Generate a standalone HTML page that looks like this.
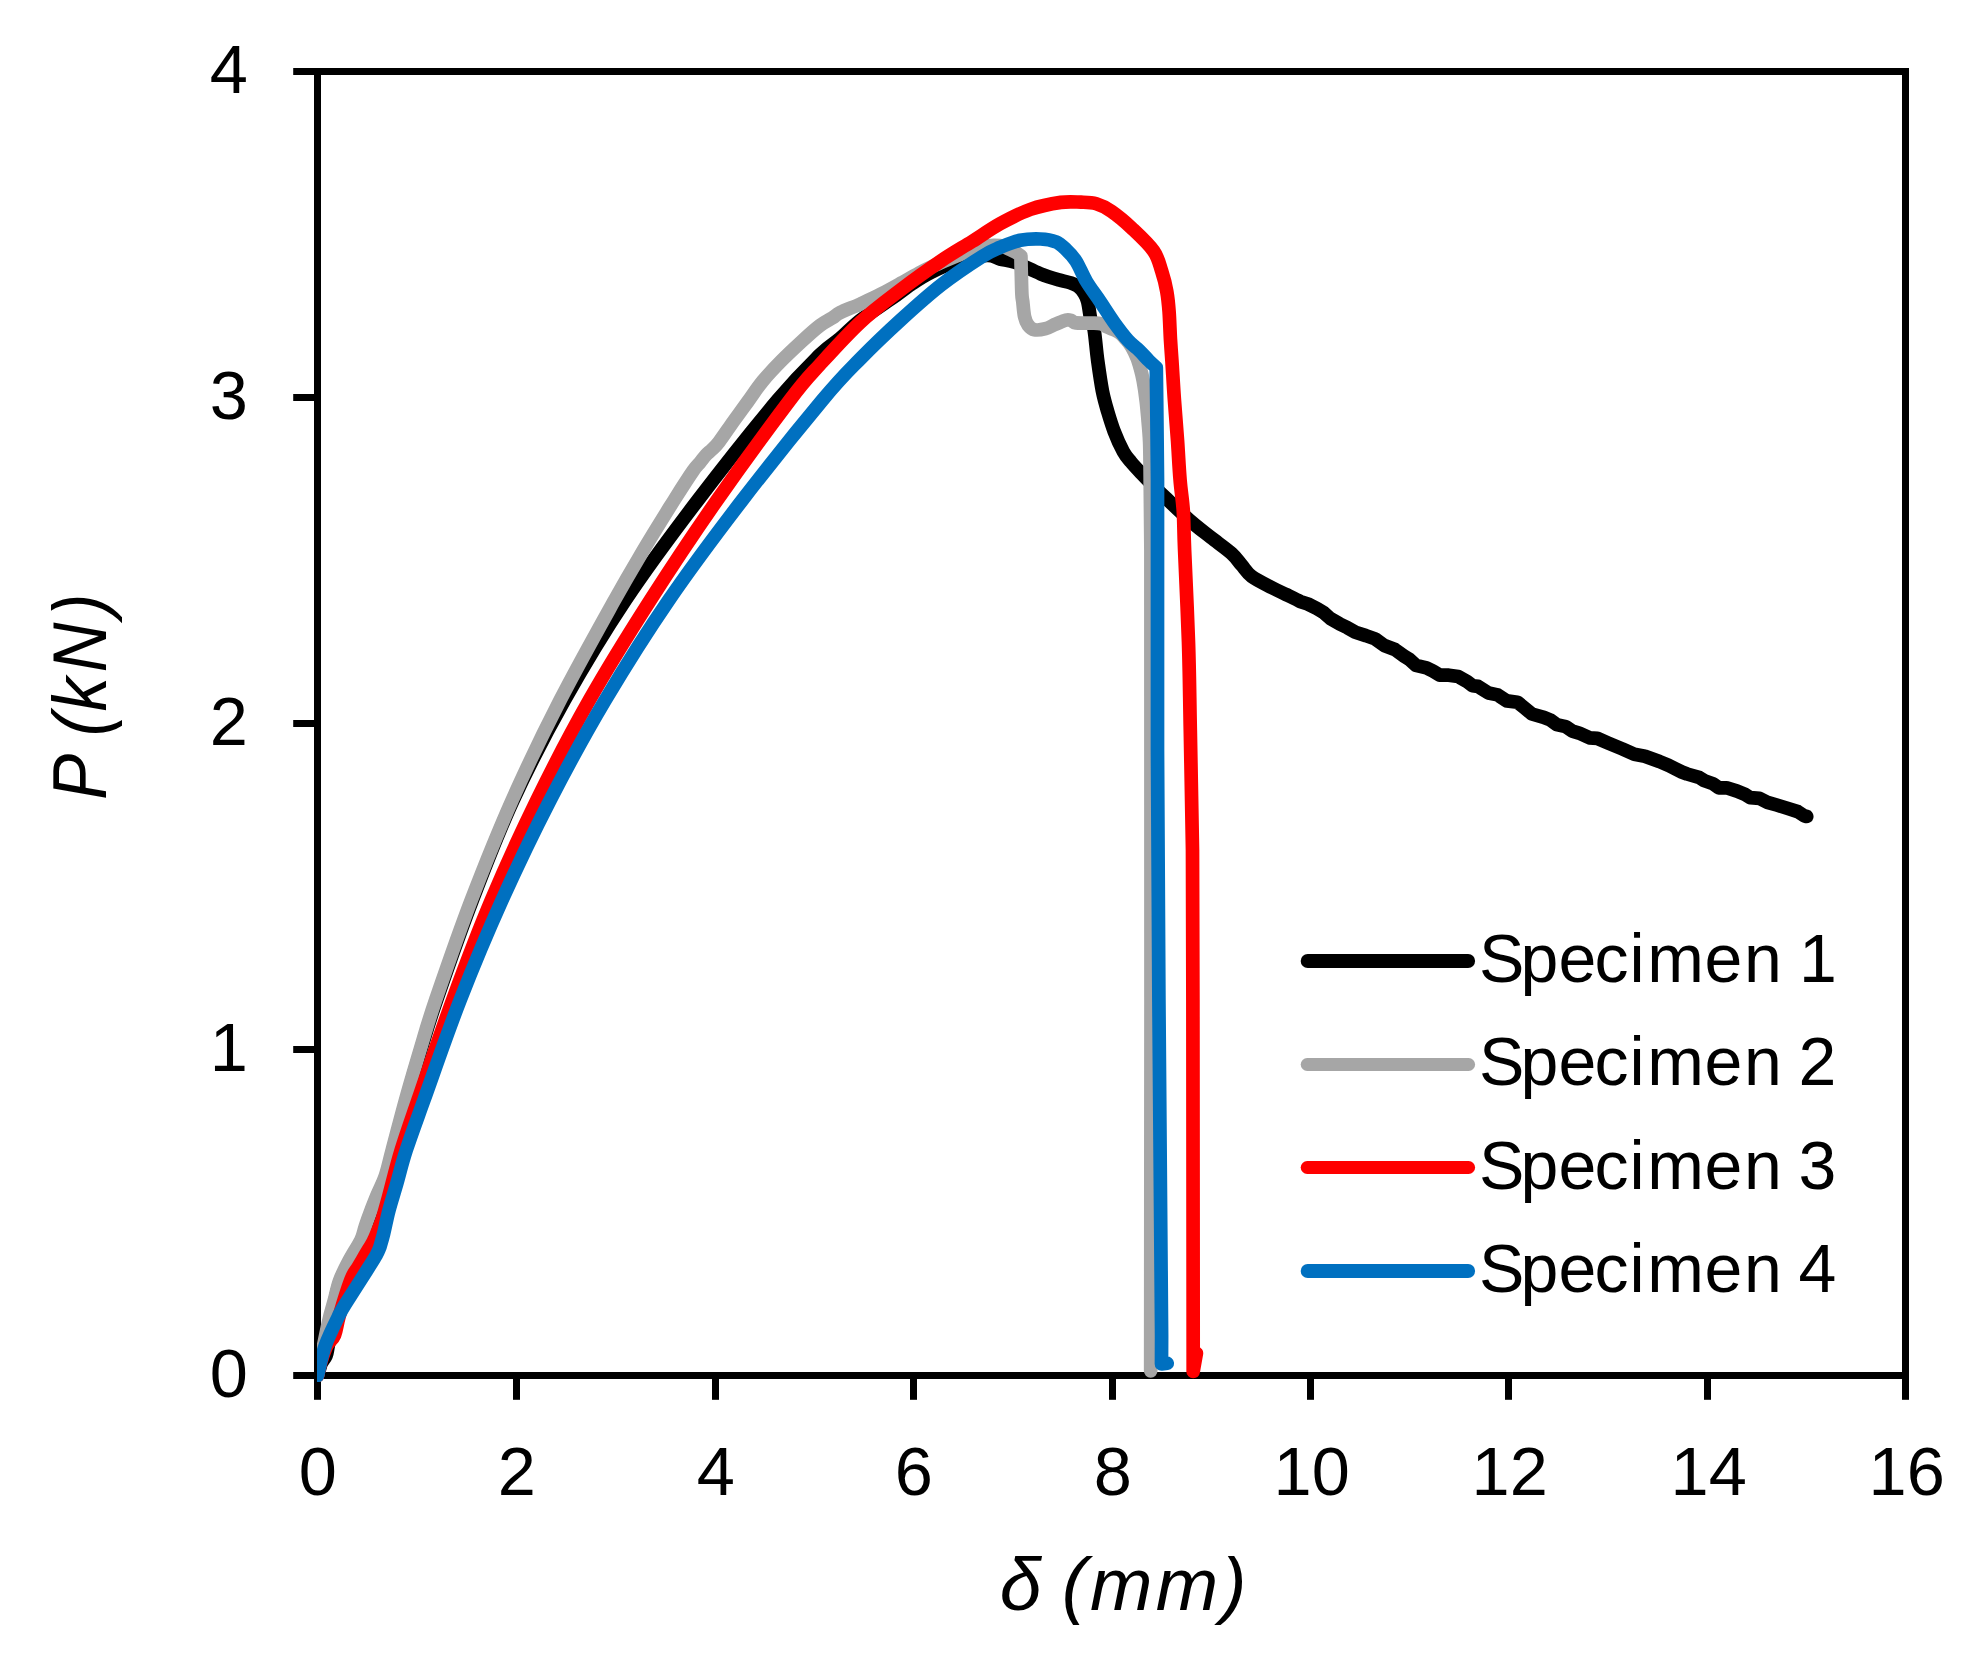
<!DOCTYPE html>
<html lang="en">
<head>
<meta charset="utf-8">
<title>P (kN) vs δ (mm)</title>
<style>
html,body{margin:0;padding:0;background:#fff;}
body{width:1973px;height:1663px;overflow:hidden;font-family:"Liberation Sans",sans-serif;}
svg{display:block;}
</style>
</head>
<body>
<svg width="1973" height="1663" viewBox="0 0 1973 1663">
<defs><clipPath id="pc"><rect x="317" y="60" width="1600" height="1322"/></clipPath></defs>
<rect width="1973" height="1663" fill="#fff"/>
<g stroke="#000" stroke-width="7.0" fill="none" stroke-linecap="butt">
<rect x="317.5" y="71.5" width="1588.0" height="1304.0"/>
<line x1="317.5" y1="1375.5" x2="317.5" y2="1399.8"/>
<line x1="516.5" y1="1375.5" x2="516.5" y2="1399.8"/>
<line x1="715.5" y1="1375.5" x2="715.5" y2="1399.8"/>
<line x1="913.5" y1="1375.5" x2="913.5" y2="1399.8"/>
<line x1="1112.5" y1="1375.5" x2="1112.5" y2="1399.8"/>
<line x1="1310.5" y1="1375.5" x2="1310.5" y2="1399.8"/>
<line x1="1508.5" y1="1375.5" x2="1508.5" y2="1399.8"/>
<line x1="1707.5" y1="1375.5" x2="1707.5" y2="1399.8"/>
<line x1="1905.5" y1="1375.5" x2="1905.5" y2="1399.8"/>
<line x1="293.2" y1="1375.5" x2="317.5" y2="1375.5"/>
<line x1="293.2" y1="1049.5" x2="317.5" y2="1049.5"/>
<line x1="293.2" y1="723.5" x2="317.5" y2="723.5"/>
<line x1="293.2" y1="397.5" x2="317.5" y2="397.5"/>
<line x1="293.2" y1="71.5" x2="317.5" y2="71.5"/>
</g>
<g clip-path="url(#pc)" fill="none" stroke-width="13.7" stroke-linecap="round" stroke-linejoin="round">
<path stroke="#000000" d="M317.5,1375.5 C317.8,1374.4 318.8,1371.1 319.5,1369.0 C320.2,1366.9 320.4,1365.2 321.5,1363.0 C322.6,1360.8 325.0,1358.4 326.1,1355.7 C327.2,1353.0 327.4,1350.0 328.0,1347.0 C328.6,1344.0 329.3,1341.2 330.0,1338.0 C330.7,1334.8 331.4,1331.8 332.0,1328.0 C332.6,1324.2 333.0,1319.6 333.5,1315.0 C334.0,1310.4 334.0,1306.1 335.1,1300.4 C336.2,1294.7 337.9,1287.3 340.3,1280.8 C342.7,1274.3 345.9,1268.1 349.5,1261.3 C353.1,1254.5 358.9,1245.7 361.6,1240.2 C364.3,1234.7 364.4,1231.7 365.5,1228.2 C366.6,1224.7 366.6,1224.5 368.5,1219.2 C370.4,1213.9 374.2,1203.9 377.2,1196.6 C380.1,1189.3 383.6,1183.4 386.2,1175.6 C388.8,1167.8 389.6,1162.6 393.0,1150.0 C396.4,1137.4 401.6,1117.0 406.3,1100.0 C411.0,1083.0 416.3,1064.8 421.4,1048.1 C426.4,1031.4 428.1,1024.7 436.6,1000.0 C445.1,975.3 459.6,933.3 472.4,900.0 C485.2,866.7 497.8,833.3 513.2,800.0 C528.6,766.7 545.9,733.3 564.6,700.0 C583.3,666.7 603.3,633.3 625.5,600.0 C647.7,566.7 672.6,533.3 698.0,500.0 C723.4,466.7 757.4,424.2 777.7,400.0 C798.0,375.8 809.6,365.0 820.0,354.7 C830.4,344.4 833.5,344.1 840.3,338.3 C847.0,332.5 852.0,326.7 860.5,320.1 C869.0,313.6 882.5,305.0 891.0,299.0 C899.5,293.0 904.5,288.8 911.2,284.3 C918.0,279.8 923.4,276.1 931.5,272.1 C939.6,268.1 950.7,263.3 960.0,260.5 C969.3,257.7 980.6,255.7 987.3,255.4 C994.0,255.2 995.4,257.8 1000.0,259.0 C1004.6,260.2 1008.5,259.9 1015.2,262.4 C1022.0,264.9 1032.9,270.8 1040.5,273.8 C1048.1,276.8 1055.7,278.9 1060.8,280.4 C1065.9,281.9 1068.1,281.9 1071.0,282.9 C1073.9,283.9 1075.9,284.7 1078.1,286.4 C1080.3,288.1 1082.4,290.5 1084.0,293.0 C1085.6,295.5 1086.5,296.8 1087.7,301.6 C1088.9,306.4 1090.1,317.1 1091.2,321.9 C1092.3,326.6 1093.1,323.7 1094.2,330.1 C1095.3,336.5 1096.3,350.4 1097.7,360.5 C1099.1,370.6 1100.8,382.6 1102.4,391.0 C1104.1,399.4 1105.6,404.4 1107.6,411.2 C1109.6,417.9 1111.6,424.7 1114.2,431.5 C1116.8,438.3 1120.6,446.7 1123.4,451.8 C1126.2,456.9 1128.2,458.6 1131.0,462.0 C1133.8,465.4 1136.7,468.5 1140.3,472.3 C1143.9,476.1 1148.3,480.8 1152.5,485.0 C1156.7,489.2 1159.2,491.7 1165.6,497.8 C1172.0,503.9 1183.4,514.9 1191.0,521.5 C1198.6,528.1 1204.5,532.4 1211.2,537.7 C1218.0,543.0 1226.4,548.8 1231.5,553.4 C1236.6,558.0 1238.2,561.2 1241.6,565.1 C1245.0,569.0 1246.7,572.7 1251.8,576.5 C1256.9,580.3 1266.4,584.7 1272.1,587.7 C1277.8,590.7 1281.3,592.2 1286.0,594.5 C1290.7,596.8 1297.7,600.2 1300.0,601.4 L1307.9,604.0 L1317.1,608.6 L1323.7,612.6 L1330.3,618.5 L1339.5,623.8 L1347.4,627.7 L1355.4,632.3 L1365.9,635.6 L1375.1,638.9 L1384.3,645.5 L1394.9,649.5 L1404.1,656.1 L1409.4,659.4 L1416.0,665.3 L1426.5,667.9 L1433.1,671.2 L1439.7,675.2 L1448.9,675.2 L1458.1,676.5 L1467.4,681.8 L1472.6,685.7 L1477.9,686.4 L1488.5,693.0 L1497.7,694.9 L1506.9,700.9 L1517.4,702.2 L1524.0,707.5 L1531.9,714.0 L1543.8,717.3 L1550.4,720.0 L1556.6,724.6 L1565.8,726.6 L1572.4,731.2 L1579.0,733.1 L1589.5,737.8 L1597.4,738.4 L1608.0,743.0 L1622.5,749.0 L1634.3,754.2 L1644.9,756.2 L1659.4,761.5 L1668.6,765.4 L1681.8,772.0 L1687.1,774.0 L1698.9,777.3 L1704.2,780.6 L1713.4,783.9 L1718.7,787.8 L1726.6,787.8 L1737.1,791.1 L1745.0,794.4 L1750.3,797.7 L1759.5,798.4 L1767.4,802.3 L1776.7,805.0 L1787.2,808.3 L1797.8,811.6 L1804.3,815.9 L1806.7,816.5"/>
<path stroke="#a6a6a6" d="M317.5,1375.5 C319.3,1366.7 325.5,1335.4 328.3,1322.9 C331.1,1310.4 332.4,1307.4 334.3,1300.4 C336.2,1293.4 337.1,1287.3 339.5,1280.8 C341.9,1274.3 345.1,1268.1 348.7,1261.3 C352.2,1254.5 358.1,1245.7 360.8,1240.2 C363.5,1234.7 363.6,1231.7 364.7,1228.2 C365.8,1224.7 365.8,1224.5 367.7,1219.2 C369.6,1213.9 373.4,1203.9 376.4,1196.6 C379.3,1189.3 382.8,1183.4 385.4,1175.6 C388.0,1167.8 388.8,1162.6 392.2,1150.0 C395.6,1137.4 400.8,1117.0 405.5,1100.0 C410.2,1083.0 415.6,1064.8 420.6,1048.1 C425.6,1031.4 427.2,1024.7 435.6,1000.0 C444.1,975.3 458.5,933.3 471.3,900.0 C484.1,866.7 497.4,833.3 512.2,800.0 C527.0,766.7 543.1,733.3 560.2,700.0 C577.3,666.7 600.7,625.0 614.6,600.0 C628.5,575.0 633.6,566.7 643.5,550.0 C653.4,533.3 666.0,513.2 674.2,500.0 C682.5,486.8 688.7,477.2 693.0,471.0 C697.3,464.8 697.8,465.2 700.0,462.5 C702.2,459.8 704.0,457.2 706.0,455.0 C708.0,452.8 709.8,451.7 712.0,449.5 C714.2,447.3 715.6,446.5 719.1,441.9 C722.6,437.2 728.5,428.4 733.3,421.6 C738.1,414.9 743.1,408.1 748.0,401.4 C752.9,394.6 757.1,387.9 762.7,381.1 C768.3,374.3 774.7,367.6 781.4,360.8 C788.1,354.0 796.3,346.4 802.7,340.5 C809.1,334.6 815.0,329.3 820.0,325.5 C825.0,321.7 829.2,319.9 832.6,317.7 C836.0,315.5 835.6,314.8 840.3,312.5 C844.9,310.2 853.8,306.9 860.5,303.9 C867.2,300.8 874.0,297.7 880.8,294.2 C887.6,290.7 894.3,286.9 901.1,283.1 C907.9,279.4 915.5,274.8 921.4,271.7 C927.3,268.6 930.7,267.1 936.6,264.5 C942.5,261.9 949.2,258.9 956.8,255.9 C964.4,252.9 975.0,248.3 982.2,246.6 C989.4,244.9 995.4,245.1 1000.0,245.6 C1004.6,246.1 1007.3,248.3 1010.0,249.5 C1012.7,250.7 1014.2,251.4 1016.0,252.5 C1017.8,253.6 1020.1,255.4 1020.9,256.0 C1021.0,258.3 1021.0,263.6 1021.2,270.0 C1021.4,276.4 1021.6,289.0 1021.9,294.3 C1022.2,299.6 1022.3,297.9 1022.8,301.6 C1023.2,305.4 1023.7,312.9 1024.6,316.8 C1025.5,320.7 1026.3,322.8 1028.0,325.0 C1029.7,327.2 1031.6,329.2 1034.5,329.8 C1037.4,330.4 1042.0,329.6 1045.6,328.7 C1049.1,327.8 1052.4,325.5 1055.8,324.1 C1059.2,322.7 1063.4,320.7 1065.9,320.1 C1068.4,319.5 1069.3,319.9 1071.0,320.4 C1072.7,320.9 1072.6,322.4 1076.0,322.9 C1079.4,323.3 1087.0,322.9 1091.2,323.1 C1095.4,323.3 1098.7,323.2 1101.4,323.9 C1104.1,324.6 1104.6,325.8 1107.5,327.2 C1110.4,328.6 1115.7,330.2 1118.8,332.2 C1121.9,334.2 1123.8,336.9 1125.9,339.3 C1128.0,341.7 1129.6,343.4 1131.4,346.4 C1133.2,349.4 1135.3,353.8 1136.8,357.5 C1138.3,361.2 1139.3,364.8 1140.4,368.7 C1141.5,372.6 1142.2,375.4 1143.2,380.8 C1144.2,386.2 1145.4,394.3 1146.2,401.1 C1147.0,407.9 1147.5,414.6 1148.1,421.4 C1148.7,428.1 1149.3,434.9 1149.6,441.6 C1149.9,448.4 1149.9,455.5 1150.0,461.9 C1150.1,468.3 1150.2,477.0 1150.2,480.0 L1150.9,550.0 L1151.0,1000.0 L1150.7,1370.8"/>
<path stroke="#ff0000" d="M317.5,1375.5 C318.1,1373.1 319.6,1366.0 321.2,1361.0 C322.8,1356.0 324.8,1349.8 327.0,1345.5 C329.2,1341.2 332.5,1340.0 334.6,1335.0 C336.7,1330.0 336.7,1324.7 339.4,1315.4 C342.1,1306.2 347.9,1287.5 351.0,1279.5 C354.1,1271.5 355.8,1271.0 358.0,1267.3 C360.2,1263.5 362.0,1260.4 364.0,1257.0 C366.0,1253.6 368.5,1249.5 370.0,1247.0 C371.5,1244.5 372.5,1242.8 373.0,1242.0 C373.6,1240.7 375.0,1237.7 376.5,1234.0 C378.0,1230.3 379.9,1226.3 382.0,1220.0 C384.1,1213.7 385.6,1207.7 388.8,1196.0 C392.0,1184.3 396.3,1166.0 401.2,1150.0 C406.1,1134.0 409.4,1125.0 418.0,1100.0 C426.6,1075.0 440.4,1033.3 452.6,1000.0 C464.8,966.7 477.3,933.3 491.4,900.0 C505.4,866.7 520.6,833.3 536.9,800.0 C553.2,766.7 570.5,733.3 589.4,700.0 C608.3,666.7 629.1,633.3 650.4,600.0 C671.7,566.7 693.9,533.3 717.2,500.0 C740.5,466.7 772.9,422.6 790.0,400.0 C807.1,377.4 808.2,377.5 820.0,364.5 C831.8,351.5 847.0,334.6 860.5,322.1 C874.0,309.6 887.6,299.8 901.1,289.5 C914.6,279.2 929.8,268.5 941.6,260.5 C953.4,252.5 962.4,247.6 972.1,241.5 C981.8,235.4 990.3,229.2 1000.0,223.8 C1009.7,218.5 1020.3,213.0 1030.4,209.4 C1040.5,205.8 1052.3,203.6 1060.8,202.4 C1069.2,201.2 1075.2,202.0 1081.1,202.2 C1087.0,202.4 1091.2,202.3 1096.3,203.8 C1101.4,205.3 1105.6,207.3 1111.5,211.4 C1117.4,215.5 1124.8,221.6 1131.8,228.2 C1138.8,234.8 1148.6,243.8 1153.6,251.0 C1158.6,258.2 1159.5,264.4 1161.7,271.2 C1163.9,277.9 1165.6,284.7 1166.8,291.5 C1168.0,298.3 1168.5,303.7 1169.1,311.8 C1169.7,319.9 1170.0,331.9 1170.5,340.0 C1171.0,348.1 1171.2,350.3 1171.9,360.5 C1172.6,370.7 1173.5,387.6 1174.5,401.1 C1175.5,414.6 1176.7,428.5 1177.6,441.6 C1178.5,454.8 1179.1,468.5 1180.1,480.0 C1181.0,491.5 1182.5,499.1 1183.3,510.8 C1184.0,522.5 1183.7,528.1 1184.6,550.0 C1185.5,571.9 1187.5,612.4 1188.5,642.4 C1189.5,672.4 1189.6,695.4 1190.3,730.0 C1191.0,764.6 1192.1,830.0 1192.5,850.0 L1192.9,1000.0 L1193.2,1371.4 L1196.4,1353.2"/>
<path stroke="#0070c0" d="M317.5,1375.5 C318.8,1370.5 321.7,1355.5 325.3,1345.5 C328.9,1335.5 335.2,1322.9 338.9,1315.4 C342.6,1307.9 343.0,1307.9 347.7,1300.4 C352.4,1292.9 362.1,1277.8 366.9,1270.3 C371.6,1262.8 374.1,1259.1 376.2,1255.3 C378.3,1251.5 379.1,1249.0 379.7,1247.7 C380.3,1245.5 381.9,1240.5 383.5,1234.2 C385.1,1228.0 386.8,1218.5 389.0,1210.2 C391.2,1201.9 393.6,1194.6 396.5,1184.6 C399.4,1174.6 401.7,1164.1 406.3,1150.0 C410.9,1135.9 415.0,1125.0 424.0,1100.0 C433.0,1075.0 447.2,1033.3 460.2,1000.0 C473.2,966.7 487.1,933.3 502.1,900.0 C517.1,866.7 533.0,833.3 550.2,800.0 C567.4,766.7 585.5,733.3 605.3,700.0 C625.1,666.7 646.0,633.3 668.9,600.0 C691.8,566.7 716.8,533.3 742.4,500.0 C768.0,466.7 802.8,423.6 822.5,400.0 C842.2,376.4 847.4,372.0 860.5,358.6 C873.6,345.2 887.6,331.9 901.1,319.6 C914.6,307.3 928.1,295.1 941.6,284.6 C955.1,274.1 972.5,262.6 982.2,256.4 C991.9,250.2 993.6,250.1 1000.0,247.4 C1006.4,244.7 1013.5,241.7 1020.3,240.3 C1027.0,238.9 1034.6,238.8 1040.5,239.0 C1046.4,239.2 1051.5,240.1 1055.8,241.8 C1060.0,243.6 1062.6,246.3 1066.0,249.5 C1069.4,252.7 1072.6,255.8 1076.0,261.1 C1079.4,266.4 1082.4,274.6 1086.4,281.4 C1090.4,288.1 1095.7,294.9 1100.2,301.6 C1104.8,308.4 1109.1,315.5 1113.7,321.9 C1118.3,328.3 1123.5,335.2 1127.7,340.0 C1131.9,344.8 1135.6,347.0 1139.1,350.4 C1142.6,353.8 1145.8,357.6 1148.7,360.5 C1151.6,363.4 1155.0,366.4 1156.3,367.6 C1156.4,373.2 1156.5,382.4 1156.7,401.1 C1156.9,419.8 1157.4,466.9 1157.5,480.0 L1157.5,750.0 L1158.9,1000.0 L1161.6,1336.0 L1161.5,1364.0 L1167.2,1363.3"/>
</g>
<g stroke-linecap="round">
<line x1="1307.7" y1="961.0" x2="1468.1" y2="961.0" stroke="#000000" stroke-width="14"/>
<line x1="1307.2" y1="1064.5" x2="1468.6" y2="1064.5" stroke="#a6a6a6" stroke-width="13"/>
<line x1="1307.2" y1="1167.5" x2="1468.6" y2="1167.5" stroke="#ff0000" stroke-width="13"/>
<line x1="1307.7" y1="1271.0" x2="1468.1" y2="1271.0" stroke="#0070c0" stroke-width="14"/>
</g>
<g font-family="'Liberation Sans', sans-serif" font-size="68.0" fill="#000">
<text x="1479.00 1520.60 1558.50 1594.60 1629.45 1647.20 1704.55 1744.05 1781.00 1798.95" y="981.8">Specimen 1</text>
<text x="1479.00 1520.60 1558.50 1594.60 1629.45 1647.20 1704.55 1744.05 1781.00 1798.55" y="1085.1">Specimen 2</text>
<text x="1479.00 1520.60 1558.50 1594.60 1629.45 1647.20 1704.55 1744.05 1781.00 1798.55" y="1188.5">Specimen 3</text>
<text x="1479.00 1520.60 1558.50 1594.60 1629.45 1647.20 1704.55 1744.05 1781.00 1798.55" y="1291.8">Specimen 4</text>
</g>
<g font-family="'Liberation Sans', sans-serif" font-size="68.5" fill="#000">
<text x="317.8" y="1494.6" text-anchor="middle">0</text>
<text x="516.8" y="1494.6" text-anchor="middle">2</text>
<text x="715.8" y="1494.6" text-anchor="middle">4</text>
<text x="913.8" y="1494.6" text-anchor="middle">6</text>
<text x="1112.8" y="1494.6" text-anchor="middle">8</text>
<text x="1311.7" y="1494.6" text-anchor="middle">10</text>
<text x="1509.7" y="1494.6" text-anchor="middle">12</text>
<text x="1708.7" y="1494.6" text-anchor="middle">14</text>
<text x="1906.7" y="1494.6" text-anchor="middle">16</text>
<text x="247.8" y="1396.9" text-anchor="end">0</text>
<text x="247.8" y="1070.9" text-anchor="end">1</text>
<text x="247.8" y="744.9" text-anchor="end">2</text>
<text x="247.8" y="418.9" text-anchor="end">3</text>
<text x="247.8" y="92.9" text-anchor="end">4</text>
</g>
<g font-family="'Liberation Sans', sans-serif" font-style="italic" fill="#000">
<text font-size="75" x="999.8 1040 1061.8 1090 1155.7 1221.5" y="1609.6">δ (mm)</text>
<text font-size="76.5" transform="translate(106.0,798) rotate(-90) scale(0.9,1)" x="-1.89 52 68.56 96.2 139.83 201.67" y="0">P (kN)</text>
</g>
</svg>
</body>
</html>
